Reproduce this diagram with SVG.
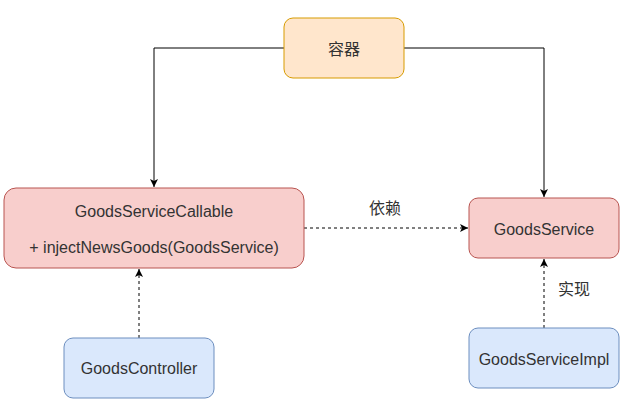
<svg xmlns="http://www.w3.org/2000/svg" width="631" height="420" viewBox="0 0 631 420">
<defs>
<style>
text{font-family:"Liberation Sans",Arial,"Noto Sans CJK SC",sans-serif;font-size:16px;fill:#333;text-anchor:middle;dominant-baseline:central}
.orange{fill:#ffe6cc;stroke:#d79b00;stroke-width:1}
.red{fill:#f8cecc;stroke:#b85450;stroke-width:1}
.blue{fill:#dae8fc;stroke:#6c8ebf;stroke-width:1}
.edge{fill:none;stroke:#000;stroke-width:1}
.dash{stroke-dasharray:3 3}
</style>
<marker id="arr" viewBox="0 0 10 10" refX="10" refY="5" markerWidth="8" markerHeight="8" markerUnits="userSpaceOnUse" orient="auto">
<path d="M0,0 L10,5 L0,10 L2.5,5 Z" fill="#000"/>
</marker>
</defs>
<rect width="631" height="420" fill="#fff"/>
<g id="connectors">
<path class="edge" d="M284,48 H154 V187" marker-end="url(#arr)"/>
<path class="edge" d="M404,48 H544 V197" marker-end="url(#arr)"/>
<path class="edge dash" d="M304,228 H468" marker-end="url(#arr)"/>
<text x="385" y="208">依赖</text>
<path class="edge dash" d="M139,338 V269" marker-end="url(#arr)"/>
<path class="edge dash" d="M544,328 V259" marker-end="url(#arr)"/>
<text x="574" y="289">实现</text>
</g>
<g id="container">
<rect class="orange" x="284" y="18" width="120" height="60" rx="9"/>
<text x="344" y="49">容器</text>
</g>
<g id="goodsServiceCallable">
<rect class="red" x="4" y="188" width="300" height="80" rx="12"/>
<text x="154" y="211">GoodsServiceCallable</text>
<text x="154" y="247">+ injectNewsGoods(GoodsService)</text>
</g>
<g id="goodsService">
<rect class="red" x="469" y="198" width="150" height="60" rx="9"/>
<text x="544" y="229">GoodsService</text>
</g>
<g id="goodsController">
<rect class="blue" x="64" y="338" width="150" height="60" rx="9"/>
<text x="139" y="368">GoodsController</text>
</g>
<g id="goodsServiceImpl">
<rect class="blue" x="469" y="328" width="150" height="60" rx="9"/>
<text x="544" y="359">GoodsServiceImpl</text>
</g>
</svg>
